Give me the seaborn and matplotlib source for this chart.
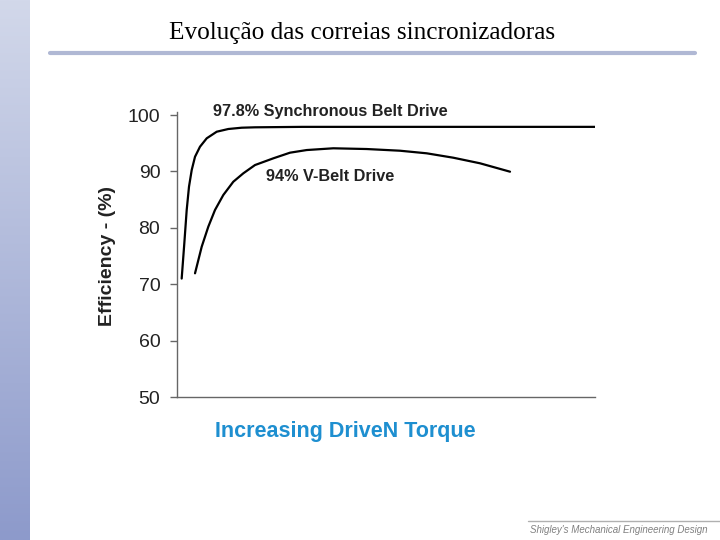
import numpy as np
import pandas as pd
import matplotlib
matplotlib.use("Agg")
import matplotlib.pyplot as plt
from matplotlib.lines import Line2D
from matplotlib.colors import LinearSegmentedColormap
import seaborn as sns

# Data (arbitrary torque units 0..100)
sync_x = [1.12, 1.75, 2.32, 2.87, 3.52, 4.31, 5.50, 7.11, 9.50, 12.27, 15.48, 18.66, 30.0, 60.0, 100.0]
sync_y = [71.0, 77.25, 83.16, 87.29, 90.25, 92.6, 94.38, 95.87, 97.04, 97.52, 97.75, 97.82, 97.9, 97.9, 97.9]
vbelt_x = [4.31, 5.91, 7.49, 9.09, 11.08, 13.47, 15.86, 18.66, 23.04, 27.03, 31.03,
           37.39, 45.38, 53.35, 59.74, 66.10, 72.49, 79.67]
vbelt_y = [71.93, 76.65, 80.2, 83.16, 85.82, 88.17, 89.66, 91.13, 92.32, 93.32, 93.79,
           94.1, 93.97, 93.67, 93.21, 92.43, 91.44, 89.95]
yticks = [50, 60, 70, 80, 90, 100]

title = "Evolução das correias sincronizadoras"
sync_label = "97.8% Synchronous Belt Drive"
vbelt_label = "94% V-Belt Drive"
ylabel = "Efficiency - (%)"
xlabel = "Increasing DriveN Torque"
footer = "Shigley's Mechanical Engineering Design"

df = pd.concat([
    pd.DataFrame({"x": sync_x, "y": sync_y, "s": "sync"}),
    pd.DataFrame({"x": vbelt_x, "y": vbelt_y, "s": "vbelt"}),
])

sns.set_theme(style="white")
plt.rcParams["font.family"] = ["Liberation Sans", "DejaVu Sans"]

fig = plt.figure(figsize=(7.2, 5.4), dpi=100)

# left gradient bar
bar_ax = fig.add_axes([0, 0, 30 / 720, 1])
grad = np.linspace(0, 1, 256).reshape(-1, 1)
cmap = LinearSegmentedColormap.from_list("g", ["#d2d8ea", "#8d9acb"])
bar_ax.imshow(grad, aspect="auto", cmap=cmap, extent=[0, 1, 0, 1], origin="upper")
bar_ax.axis("off")

# title and rule
fig.text(362 / 720, 1 - 33 / 540, title, ha="center", va="center",
         fontsize=18.2, family=["Liberation Serif", "DejaVu Serif"], color="black")
fig.add_artist(Line2D([50 / 720, 695 / 720], [1 - 53 / 540, 1 - 53 / 540],
                      color="#b0b8d4", lw=3, transform=fig.transFigure))

# footer
fig.add_artist(Line2D([528 / 720, 720 / 720], [1 - 521 / 540, 1 - 521 / 540],
                      color="#b0b0b0", lw=1, transform=fig.transFigure))
fig.text(530 / 720, 1 - 530 / 540, footer, ha="left", va="center",
         fontsize=7, style="italic", color="#808080")

# main axes
ax = fig.add_axes([177 / 720, 143 / 540, 418 / 720, 284.8 / 540])
sns.lineplot(data=df, x="x", y="y", units="s", estimator=None, color="black",
             lw=1.6, ax=ax, sort=False, solid_joinstyle="round", solid_capstyle="round")
ax.set_xlim(0, 100)
ax.set_ylim(50, 100.5)
ax.set_yticks(yticks)
ax.set_yticklabels([str(t) for t in yticks], fontsize=14, color="#222222")
ax.set_xticks([])
for s in ["top", "right"]:
    ax.spines[s].set_visible(False)
for s in ["left", "bottom"]:
    ax.spines[s].set_color("#666666")
    ax.spines[s].set_linewidth(1.0)
ax.tick_params(axis="y", left=True, length=5, width=1, color="#666666", pad=7)
ax.set_xlabel(xlabel, fontsize=15.5, fontweight="bold", color="#1e8fd0")
ax.xaxis.set_label_coords((345 - 177) / 418, -(432 - 397) / 284.8)
ax.set_ylabel(ylabel, fontsize=14, fontweight="bold", color="#222222")
ax.yaxis.set_label_coords(-(177 - 107) / 418, (397 - 256) / 284.8)
ax.xaxis.label.set_va("center")
ax.yaxis.label.set_va("center")

ax.text((213 - 177) / 4.18, 100 - (111 - 115) / 5.64, sync_label, ha="left", va="center",
        fontsize=11.7, fontweight="bold", color="#222222")
ax.text((266 - 177) / 4.18, 100 - (176 - 115) / 5.64, vbelt_label, ha="left", va="center",
        fontsize=11.7, fontweight="bold", color="#222222")
ax.set_facecolor("white")

fig.savefig("out.png", dpi=100, facecolor="white")
